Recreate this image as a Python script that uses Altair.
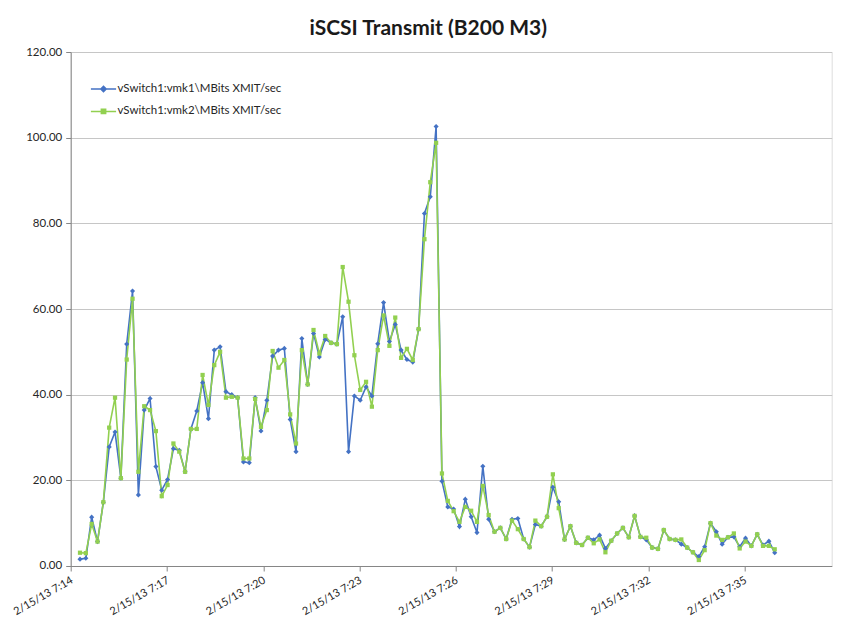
import altair as alt
import pandas as pd

# ---- data ----
series_names = ["vSwitch1:vmk1\\MBits XMIT/sec", "vSwitch1:vmk2\\MBits XMIT/sec"]

vmk1 = [1.6, 1.8, 11.4, 5.7, 14.9, 27.8, 31.3, 20.5, 51.8, 64.2,
        16.6, 36.4, 39.1, 23.2, 17.7, 20.2, 27.4, 27.0, 22.0, 32.0,
        36.2, 42.8, 34.4, 50.4, 51.2, 40.7, 40.0, 39.3, 24.3, 24.1,
        39.3, 31.5, 38.7, 49.0, 50.4, 50.8, 34.2, 26.7, 53.1, 42.4,
        54.3, 48.8, 52.9, 52.1, 51.8, 58.2, 26.7, 39.7, 38.7, 41.8,
        39.7, 51.9, 61.5, 52.4, 56.4, 50.4, 48.2, 47.6, 55.3, 82.3,
        86.2, 102.6, 19.8, 13.8, 13.3, 9.2, 15.6, 11.5, 7.8, 23.3,
        10.9, 8.0, 8.9, 6.3, 10.9, 11.1, 6.3, 4.4, 9.7, 9.3,
        11.5, 18.4, 15.0, 6.2, 9.3, 5.4, 4.9, 6.6, 6.1, 7.2,
        4.1, 5.9, 7.6, 8.9, 6.7, 11.7, 6.8, 6.1, 4.3, 4.0,
        8.4, 6.3, 6.1, 5.1, 4.3, 3.2, 2.2, 4.5, 10.0, 8.0,
        5.1, 6.7, 6.8, 4.5, 6.5, 4.7, 7.4, 4.9, 5.8, 3.1]

vmk2 = [3.1, 3.0, 9.8, 5.7, 14.9, 32.3, 39.3, 20.5, 48.2, 62.4,
        22.0, 37.3, 36.4, 31.5, 16.3, 18.9, 28.6, 26.7, 22.0, 32.0,
        32.0, 44.6, 37.6, 46.9, 50.0, 39.3, 39.5, 39.3, 25.1, 25.1,
        39.0, 32.5, 36.4, 50.2, 46.3, 48.1, 35.4, 28.6, 50.4, 42.4,
        55.1, 49.6, 53.7, 52.1, 51.8, 69.8, 61.7, 49.2, 41.1, 43.0,
        37.2, 50.4, 58.5, 51.4, 58.0, 48.6, 50.7, 48.1, 55.3, 76.3,
        89.6, 98.8, 21.6, 15.2, 12.8, 10.3, 13.8, 12.9, 10.3, 18.7,
        11.9, 8.0, 8.9, 6.3, 10.6, 8.6, 6.3, 4.4, 10.6, 9.3,
        11.5, 21.4, 13.5, 6.2, 9.3, 5.4, 4.9, 6.6, 5.3, 6.2,
        3.2, 5.9, 7.6, 8.9, 6.7, 11.7, 6.8, 6.6, 4.3, 4.0,
        8.4, 6.3, 6.1, 6.2, 4.3, 3.2, 1.4, 3.7, 10.0, 7.1,
        6.1, 6.7, 7.6, 4.1, 5.7, 4.7, 7.4, 4.7, 4.7, 3.9]

y_ticks = [0, 20, 40, 60, 80, 100, 120]

# sample timestamps (esxtop samples, ~10.5 s apart)
t0 = pd.Timestamp("2013-02-15 07:15:09.500")
step = pd.Timedelta(milliseconds=10480)
times = [(t0 + i * step).strftime("%Y-%m-%dT%H:%M:%S.%f")[:-3] for i in range(len(vmk1))]

rows = []
for name, vals in zip(series_names, [vmk1, vmk2]):
    for t, v in zip(times, vals):
        rows.append({"time": t, "series": name, "value": v})
df = pd.DataFrame(rows)


def dt(h, m, s, ms):
    return alt.DateTime(year=2013, month=2, date=15, hours=h, minutes=m, seconds=s, milliseconds=ms)


# x tick positions (every 0.002 day, as in the Excel axis)
x_ticks = [dt(7, 14, 52, 800), dt(7, 17, 45, 600), dt(7, 20, 38, 400), dt(7, 23, 31, 200),
           dt(7, 26, 24, 0), dt(7, 29, 16, 800), dt(7, 32, 9, 600), dt(7, 35, 2, 400)]
x_domain = [dt(7, 14, 52, 800), dt(7, 37, 38, 900)]

colors = ["#4472C4", "#92D050"]
FONT = "Lato"

# legend symbols: line with marker (diamond / square)
legend_paths = ["M-1.4,0H1.4M-0.3,0L0,-0.3L0.3,0L0,0.3Z",
                "M-1.4,0H1.4M-0.24,-0.24H0.24V0.24H-0.24Z"]

x_enc = alt.X(
    "time:T",
    scale=alt.Scale(domain=x_domain),
    axis=alt.Axis(
        values=x_ticks,
        format="%-m/%d/%y %-H:%M",
        labelAngle=-30,
        labelAlign="right",
        labelBaseline="top",
        labelPadding=3,
        labelOffset=-2,
        grid=False,
        tickSize=5,
        domainColor="#868686",
        tickColor="#868686",
        labelFontSize=11,
        labelColor="#262626",
        labelFont=FONT,
        title=None,
    ),
)
y_enc = alt.Y(
    "value:Q",
    scale=alt.Scale(domain=[0, 120], nice=False),
    axis=alt.Axis(
        values=y_ticks,
        format=".2f",
        grid=True,
        gridColor="#C6C6C6",
        tickSize=5,
        domainColor="#868686",
        tickColor="#868686",
        labelPadding=4,
        labelFontSize=11.5,
        labelColor="#262626",
        labelFont=FONT,
        title=None,
    ),
)

leg = dict(
    title=None,
    orient="none",
    legendX=22.8,
    legendY=27,
    direction="vertical",
    symbolSize=324,
    symbolStrokeWidth=1.5,
    labelOffset=4,
    rowPadding=6.4,
    padding=0,
    labelFontSize=11.5,
    labelFont=FONT,
    labelColor="#262626",
    labelLimit=400,
)

base = alt.Chart(df)


def series_layers(i, shape, size):
    sub = base.transform_filter(alt.datum.series == series_names[i])
    ln = sub.mark_line(strokeWidth=1.6, color=colors[i]).encode(x=x_enc, y=y_enc)
    pt = sub.mark_point(filled=True, opacity=1, shape=shape, size=size, color=colors[i]).encode(
        x="time:T", y="value:Q")
    return ln, pt


ln_b, pt_b = series_layers(0, "diamond", 26)
ln_g, pt_g = series_layers(1, "square", 18)

# empty layer that only carries the legend (line + marker symbols)
legend_layer = base.transform_filter("false").mark_point(
    filled=True, opacity=1, strokeWidth=1.5, size=324
).encode(
    x="time:T",
    y="value:Q",
    color=alt.Color("series:N", scale=alt.Scale(domain=series_names, range=colors), legend=alt.Legend(**leg)),
    stroke=alt.Stroke("series:N", scale=alt.Scale(domain=series_names, range=colors), legend=alt.Legend(**leg)),
    shape=alt.Shape("series:N", scale=alt.Scale(domain=series_names, range=legend_paths), legend=alt.Legend(**leg)),
)

chart = (
    alt.layer(ln_b, ln_g, pt_b, pt_g, legend_layer)
    .properties(
        width=761,
        height=514,
        autosize=alt.AutoSizeParams(type="none"),
        padding={"left": 62.7, "top": 44, "right": 12, "bottom": 55},
        title=alt.TitleParams(
            "iSCSI Transmit (B200 M3)",
            font=FONT,
            fontSize=21,
            fontWeight="bold",
            color="#1a1a1a",
            anchor="middle",
            baseline="alphabetic",
            offset=10,
            dx=-23,
            dy=20,
        ),
    )
    .configure_view(stroke=None)
    .configure(background="white")
)

chart.save("out.html", embed_options={"renderer": "svg", "actions": False})
